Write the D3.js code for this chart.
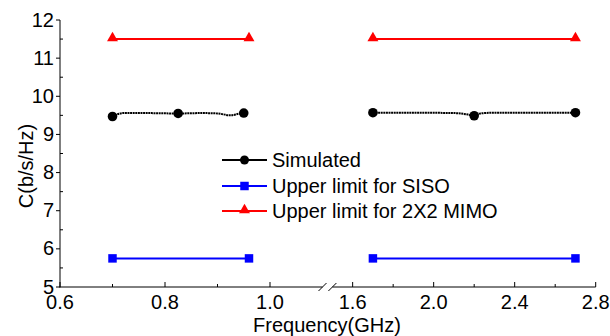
<!DOCTYPE html>
<html>
<head>
<meta charset="utf-8">
<script src="https://cdn.jsdelivr.net/npm/d3@7"></script>
<style>
  body { margin: 0; background: #fff; }
  text { font-family: "Liberation Sans", Arial, sans-serif; fill: #000; }
</style>
</head>
<body>
<script>
// --- data ---
var simLowF  = [0.70, 0.72, 0.76, 0.825, 0.87, 0.90, 0.925, 0.94, 0.95];
var simLowC  = [9.47, 9.56, 9.56, 9.55, 9.56, 9.55, 9.50, 9.54, 9.56];
var simHighF = [1.70, 1.90, 2.10, 2.17, 2.20, 2.23, 2.30, 2.70];
var simHighC = [9.57, 9.57, 9.56, 9.52, 9.49, 9.55, 9.57, 9.57];
var simMarkF = [0.70, 0.825, 0.95, 1.70, 2.20, 2.70];
var simMarkC = [9.47, 9.55, 9.56, 9.57, 9.49, 9.57];

var limitLowF  = [0.70, 0.96];
var limitHighF = [1.70, 2.70];
var sisoC = [5.75, 5.75];
var mimoC = [11.5, 11.5];

var xTicksLow  = [0.6, 0.8, 1.0];
var xMinorLow  = [0.7, 0.9];
var xTicksHigh = [1.6, 2.0, 2.4, 2.8];
var xMinorHigh = [1.8, 2.2, 2.6];
var yTicks = [5, 6, 7, 8, 9, 10, 11, 12];
var yMinor = [5.5, 6.5, 7.5, 8.5, 9.5, 10.5, 11.5];

var legendNames = ["Simulated", "Upper limit for SISO", "Upper limit for 2X2 MIMO"];

var width = 610, height = 336;
var fs = 20;
var svg = d3.select("body").append("svg")
  .attr("width", width)
  .attr("height", height);

var yTop = 20, yBot = 287;
var xLow  = d3.scaleLinear().domain([0.6, 1.1]).range([60, 322.5]);
var xHigh = d3.scaleLinear().domain([1.5, 2.8]).range([332.4, 595.7]);
var y = d3.scaleLinear().domain([5, 12]).range([yBot, yTop]);

function xOf(f){ return f < 1.3 ? xLow(f) : xHigh(f); }

// axes
var axisG = svg.append("g").attr("stroke", "#000").attr("stroke-width", 1);
axisG.append("line").attr("x1", 60).attr("x2", 60).attr("y1", yTop).attr("y2", yBot + 0.5);
axisG.append("line").attr("x1", 59.5).attr("x2", xLow.range()[1]).attr("y1", yBot).attr("y2", yBot);
axisG.append("line").attr("x1", xHigh.range()[0]).attr("x2", xHigh.range()[1]).attr("y1", yBot).attr("y2", yBot);

// break slashes
[xLow.range()[1], xHigh.range()[0]].forEach(function (bx){
  axisG.append("line")
    .attr("x1", bx - 4).attr("y1", yBot + 4)
    .attr("x2", bx + 4).attr("y2", yBot - 4);
});

// x ticks (inward)
function xTicks(scale, major, minor){
  major.forEach(function (t){
    axisG.append("line").attr("x1", scale(t)).attr("x2", scale(t)).attr("y1", yBot).attr("y2", yBot - 5);
    svg.append("text").attr("x", scale(t)).attr("y", 308.5)
      .attr("text-anchor", "middle").attr("font-size", fs).text(d3.format(".1f")(t));
  });
  minor.forEach(function (t){
    axisG.append("line").attr("x1", scale(t)).attr("x2", scale(t)).attr("y1", yBot).attr("y2", yBot - 3);
  });
}
xTicks(xLow, xTicksLow, xMinorLow);
xTicks(xHigh, xTicksHigh, xMinorHigh);

// y ticks
yTicks.forEach(function (t){
  axisG.append("line").attr("x1", 56).attr("x2", 60).attr("y1", y(t)).attr("y2", y(t));
  svg.append("text").attr("x", 54).attr("y", y(t) + 6.5)
    .attr("text-anchor", "end").attr("font-size", fs).text(t);
});
yMinor.forEach(function (t){
  axisG.append("line").attr("x1", 60).attr("x2", 63).attr("y1", y(t)).attr("y2", y(t));
});

// axis titles
svg.append("text").attr("x", 327).attr("y", 332)
  .attr("text-anchor", "middle").attr("font-size", fs).text("Frequency(GHz)");
svg.append("text").attr("transform", "translate(33,166) rotate(-90)")
  .attr("text-anchor", "middle").attr("font-size", fs).text("C(b/s/Hz)");

// lines
var line = d3.line()
  .x(function (d){ return xOf(d[0]); })
  .y(function (d){ return y(d[1]); });
var curveLine = d3.line()
  .x(function (d){ return xOf(d[0]); })
  .y(function (d){ return y(d[1]); })
  .curve(d3.curveMonotoneX);

function pairs(a, b){ return a.map(function (v, i){ return [v, b[i]]; }); }

[[limitLowF, mimoC], [limitHighF, mimoC]].forEach(function (s){
  svg.append("path").attr("d", line(pairs(s[0], s[1])))
    .attr("fill", "none").attr("stroke", "#ff0000").attr("stroke-width", 2);
});
[[limitLowF, sisoC], [limitHighF, sisoC]].forEach(function (s){
  svg.append("path").attr("d", line(pairs(s[0], s[1])))
    .attr("fill", "none").attr("stroke", "#0000ff").attr("stroke-width", 2);
});
[[simLowF, simLowC], [simHighF, simHighC]].forEach(function (s){
  svg.append("path").attr("d", curveLine(pairs(s[0], s[1])))
    .attr("fill", "none").attr("stroke", "#000").attr("stroke-width", 2)
    .attr("stroke-dasharray", "2,0.6");
});

// markers
var tri = d3.symbol().type(d3.symbolTriangle).size(52);
var sq = d3.symbol().type(d3.symbolSquare).size(72);

limitLowF.concat(limitHighF).forEach(function (f){
  svg.append("path").attr("d", tri())
    .attr("transform", "translate(" + xOf(f) + "," + (y(11.5) - 1) + ")")
    .attr("fill", "#ff0000");
  svg.append("path").attr("d", sq())
    .attr("transform", "translate(" + xOf(f) + "," + y(5.75) + ")")
    .attr("fill", "#0000ff");
});
svg.selectAll("circle.sim").data(pairs(simMarkF, simMarkC)).enter()
  .append("circle").attr("class", "sim")
  .attr("cx", function (d){ return xOf(d[0]); })
  .attr("cy", function (d){ return y(d[1]); })
  .attr("r", 4.8)
  .attr("fill", "#000");

// legend
var legColors = ["#000", "#0000ff", "#ff0000"];
var legY = [160, 186, 211];
legendNames.forEach(function (name, i){
  var g = svg.append("g");
  g.append("line").attr("x1", 222).attr("x2", 267).attr("y1", legY[i]).attr("y2", legY[i])
    .attr("stroke", legColors[i]).attr("stroke-width", 2);
  if (i === 0) {
    g.append("circle").attr("cx", 244.5).attr("cy", legY[i]).attr("r", 4.5).attr("fill", legColors[i]);
  } else if (i === 1) {
    g.append("path").attr("d", sq()).attr("transform", "translate(244.5," + legY[i] + ")").attr("fill", legColors[i]);
  } else {
    g.append("path").attr("d", tri()).attr("transform", "translate(244.5," + (legY[i] - 1) + ")").attr("fill", legColors[i]);
  }
  g.append("text").attr("x", 272).attr("y", legY[i] + 7).attr("font-size", fs).text(name);
});
</script>
</body>
</html>
